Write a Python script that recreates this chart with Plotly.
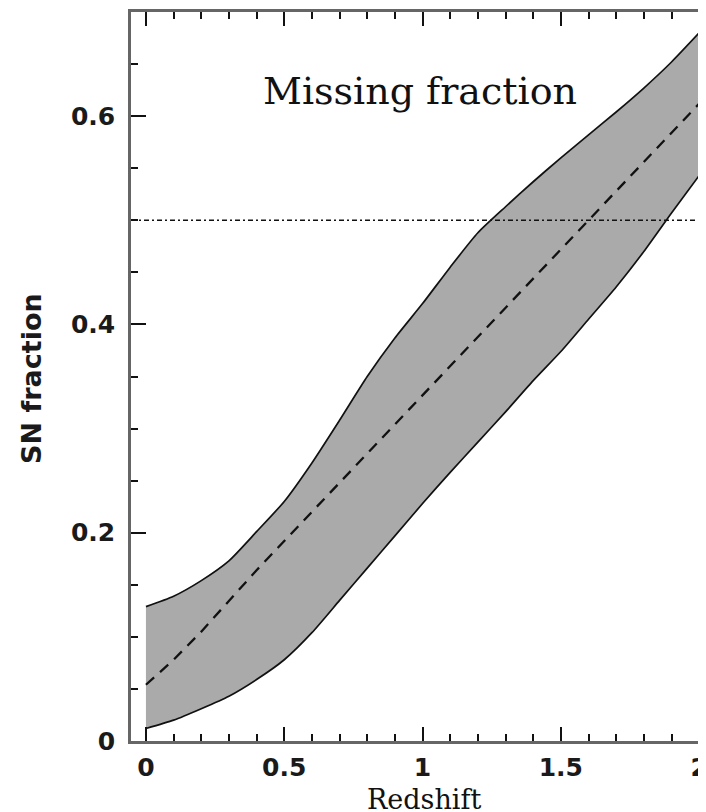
import plotly.graph_objects as go

# Data
redshift = [0.0, 0.1, 0.2, 0.3, 0.4, 0.5, 0.6, 0.7, 0.8, 0.9, 1.0,
            1.1, 1.2, 1.3, 1.4, 1.5, 1.6, 1.7, 1.8, 1.9, 2.0]
upper = [0.129, 0.139, 0.154, 0.173, 0.201, 0.230, 0.267, 0.308, 0.350, 0.387, 0.420,
         0.455, 0.488, 0.513, 0.537, 0.560, 0.582, 0.604, 0.627, 0.652, 0.680]
middle = [0.054, 0.078, 0.105, 0.135, 0.164, 0.192, 0.220, 0.249, 0.277, 0.305, 0.332,
          0.360, 0.389, 0.417, 0.445, 0.472, 0.500, 0.528, 0.556, 0.584, 0.612]
lower = [0.012, 0.020, 0.031, 0.043, 0.059, 0.078, 0.104, 0.135, 0.166, 0.197, 0.228,
         0.258, 0.287, 0.316, 0.346, 0.374, 0.405, 0.436, 0.470, 0.507, 0.543]
half_level = 0.5

x_tickvals = [0, 0.5, 1, 1.5, 2]
x_ticktext = ["0", "0.5", "1", "1.5", "2"]
y_tickvals = [0, 0.2, 0.4, 0.6]
y_ticktext = ["0", "0.2", "0.4", "0.6"]

title_text = "Missing fraction"
x_title = "Redshift"
y_title = "SN fraction"

fig = go.Figure()

# shaded band
fig.add_trace(go.Scatter(
    x=redshift + redshift[::-1],
    y=upper + lower[::-1],
    fill="toself", fillcolor="#aaaaaa",
    line=dict(width=0), mode="lines", hoverinfo="skip", showlegend=False))

fig.add_trace(go.Scatter(x=redshift, y=upper, mode="lines",
                         line=dict(color="#111111", width=1.7, shape="spline", smoothing=0.6),
                         showlegend=False))
fig.add_trace(go.Scatter(x=redshift, y=lower, mode="lines",
                         line=dict(color="#111111", width=1.7, shape="spline", smoothing=0.6),
                         showlegend=False))
fig.add_trace(go.Scatter(x=redshift, y=middle, mode="lines",
                         line=dict(color="#111111", width=2.3, dash="11px,8px"),
                         showlegend=False))

fig.add_shape(type="line", xref="paper", x0=0, x1=1, yref="y",
              y0=half_level, y1=half_level,
              line=dict(color="#111111", width=1.6, dash="5px,3px,2px,3px"))

tickfont = dict(family="DejaVu Sans", size=25, color="#1a1a1a", weight="bold")

fig.update_xaxes(
    range=[-0.054, 2.05], tickvals=x_tickvals, ticktext=x_ticktext,
    ticks="inside", ticklen=14, tickwidth=1.6, tickcolor="#111111",
    minor=dict(dtick=0.1, ticks="inside", ticklen=7, tickwidth=1.6, tickcolor="#111111"),
    showline=True, linecolor="#666666", linewidth=2.5, mirror="ticks",
    showgrid=False, zeroline=False, tickfont=tickfont, ticklabelstandoff=2)
fig.update_yaxes(
    range=[0, 0.70], tickvals=y_tickvals, ticktext=y_ticktext,
    ticks="inside", ticklen=15, tickwidth=1.6, tickcolor="#111111",
    minor=dict(dtick=0.05, ticks="inside", ticklen=7, tickwidth=1.6, tickcolor="#111111"),
    showline=True, linecolor="#666666", linewidth=2.5, mirror="ticks",
    showgrid=False, zeroline=False, tickfont=tickfont, ticklabelstandoff=8)

fig.add_annotation(x=0.99, y=0.601, xref="x", yref="y", text=title_text,
                   showarrow=False, xanchor="center", yanchor="bottom",
                   font=dict(family="DejaVu Serif", size=38, color="#111111"))
fig.add_annotation(x=0.5026, y=0, xref="paper", yref="paper", text=x_title,
                   showarrow=False, xanchor="center", yanchor="middle", yshift=-58,
                   font=dict(family="DejaVu Serif", size=27, color="#111111"))
fig.add_annotation(x=0, y=0.4966, xref="paper", yref="paper", text=y_title,
                   showarrow=False, xanchor="center", yanchor="middle", xshift=-99,
                   textangle=-90,
                   font=dict(family="DejaVu Sans", size=27, color="#1a1a1a", weight="bold"))

# page body adds an 8px offset; the plot's right frame falls just outside the window
fig.update_layout(
    width=708, height=804,
    margin=dict(l=123, r=0, t=4, b=71),
    paper_bgcolor="white", plot_bgcolor="white")

fig.write_html("out.html")
